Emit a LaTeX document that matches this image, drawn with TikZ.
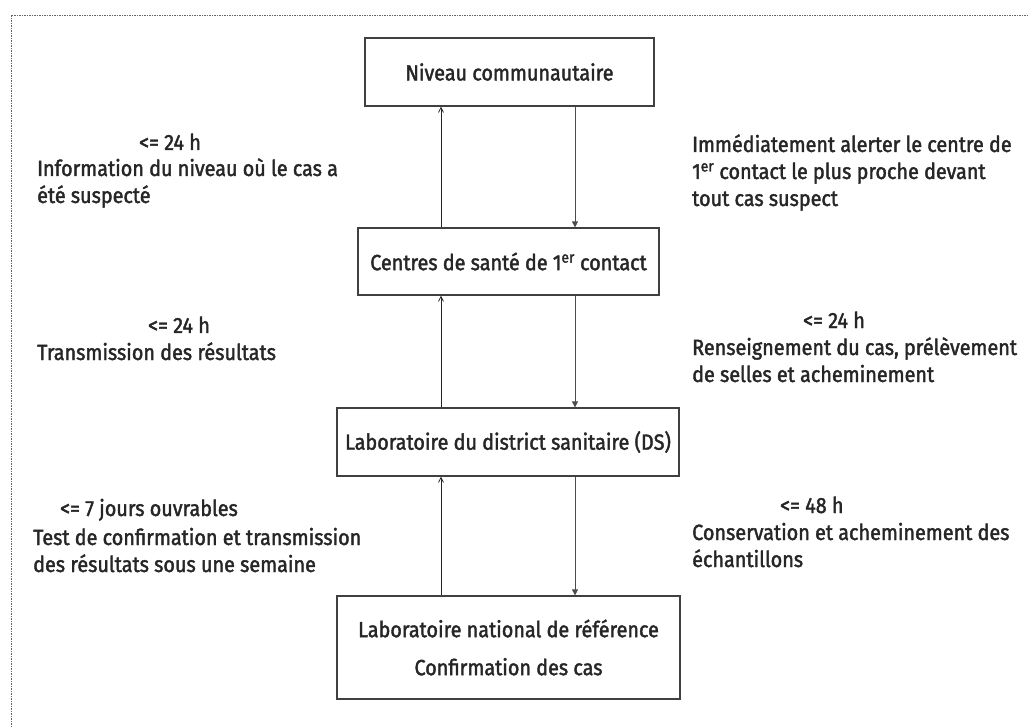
\documentclass[tikz,border=0pt]{standalone}
\usepackage{fontspec}
\setmainfont{Fira Sans}[FakeBold=1.8, FakeStretch=0.9]
\usetikzlibrary{arrows.meta, positioning}

\begin{document}
\begin{tikzpicture}[x=1pt, y=-1pt, every node/.style={font=\fontsize{22}{27}\selectfont, text=black!85}]
\tikzstyle{tier} = [rectangle, draw=black!75, line width=1.2pt, inner sep=0pt, align=center]
\tikzstyle{note} = [anchor=base west, align=left, inner sep=0pt]
\tikzstyle{uparr} = [-{Straight Barb[length=5pt, width=5pt]}, line width=0.8pt, draw=black!85]
\tikzstyle{dnarr} = [-{Triangle[length=6pt, width=6pt]}, line width=0.8pt, draw=black!70]
\tikzstyle{frame} = [draw=black!60, line width=0.8pt, dash pattern=on 1.5pt off 1pt]

\useasboundingbox (0,0) rectangle (1028,727);
\draw[frame] (11,727) -- (11,15) -- (1028,15);

\node[tier, minimum width=289pt, minimum height=68pt] (commu) at (509.5,72) {Niveau communautaire};
\node[tier, minimum width=301pt, minimum height=67pt] (csps) at (508.5,261.5) {Centres de santé de 1\textsuperscript{er} contact};
\node[tier, minimum width=342pt, minimum height=68pt] (labds) at (508,442) {Laboratoire du district sanitaire (DS)};
\node[tier, minimum width=343pt, minimum height=103pt] (labnat) at (508.5,647.5) {Laboratoire national de référence\\[11pt]Confirmation des cas};

\coordinate (upx) at (441,0);
\coordinate (dnx) at (575,0);

\draw[uparr] (csps.north -| upx) -- (commu.south -| upx);
\draw[dnarr] (commu.south -| dnx) -- (csps.north -| dnx);
\draw[uparr] (labds.north -| upx) -- (csps.south -| upx);
\draw[dnarr] (csps.south -| dnx) -- (labds.north -| dnx);
\draw[uparr] (labnat.north -| upx) -- (labds.south -| upx);
\draw[dnarr] (labds.south -| dnx) -- (labnat.north -| dnx);

\node[note] (delay1) at (139,150) {<= 24 h};
\node[note] (info1) at (37,203) {Information du niveau où le cas a\\été suspecté};
\node[note] (alert1) at (692,206) {Immédiatement alerter le centre de\\1\textsuperscript{er} contact le plus proche devant\\tout cas suspect};

\node[note] (delay2) at (148,333) {<= 24 h};
\node[note] (info2) at (37,360) {Transmission des résultats};
\node[note] (delay3) at (803,328) {<= 24 h};
\node[note] (alert2) at (692,382) {Renseignement du cas, prélèvement\\de selles et acheminement};

\node[note] (delay4) at (60,516) {<= 7 jours ouvrables};
\node[note] (info3) at (33,572) {Test de confirmation et transmission\\des résultats sous une semaine};
\node[note] (delay5) at (780,513) {<= 48 h};
\node[note] (alert3) at (692,567) {Conservation et acheminement des\\échantillons};
\end{tikzpicture}
\end{document}
